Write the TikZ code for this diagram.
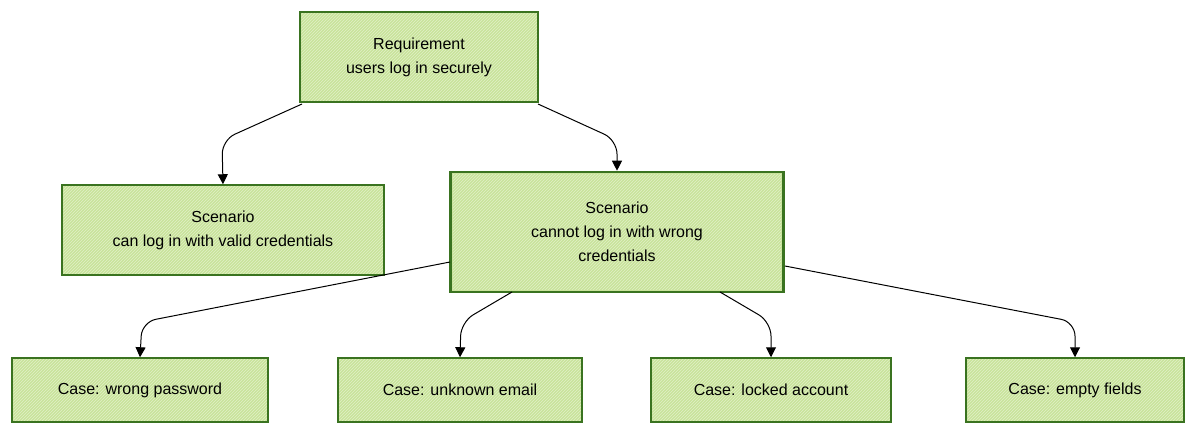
\documentclass[tikz,border=0pt]{standalone}
\usepackage{fontspec}
\setmainfont{Liberation Sans}
\usetikzlibrary{arrows.meta,patterns}
\definecolor{boxfill}{HTML}{C9E39B}
\definecolor{boxline}{HTML}{3A7320}
\begin{document}
\begin{tikzpicture}[x=1pt,y=-1pt,
  box/.style={draw=boxline,line width=1.5pt,fill=boxfill,inner sep=0pt},
  txt/.style={align=center,font=\fontsize{16}{24}\selectfont},
  hatch/.style={pattern=north east lines,pattern color=white!45!boxfill},
  arr/.style={-{Triangle[length=10pt,width=10pt]},line width=1pt,rounded corners=14pt}]
\useasboundingbox (0,0) rectangle (1200,436);
\node[box,minimum width=238,minimum height=90] (req) at (419,57) {};
\node[box,minimum width=322,minimum height=90] (s1) at (223,230) {};
\node[box,line width=2.6pt,minimum width=333,minimum height=120] (s2) at (617,232) {};
\node[box,minimum width=256,minimum height=64] (c1) at (140,390) {};
\node[box,minimum width=244,minimum height=64] (c2) at (460,390) {};
\node[box,minimum width=240,minimum height=64] (c3) at (771,390) {};
\node[box,minimum width=218,minimum height=64] (c4) at (1075,390) {};
\foreach \n/\d in {req/2,s1/2,s2/3.5,c1/2,c2/2,c3/2,c4/2}{\path[hatch] ([shift={(\d,-\d)}]\n.south west) rectangle ([shift={(-\d,\d)}]\n.north east);}
\foreach \n/\t in {req/{Requirement\\users log in securely},s1/{Scenario\\can log in with valid credentials},s2/{Scenario\\cannot log in with wrong\\credentials},c1/{Case: wrong password},c2/{Case: unknown email},c3/{Case: locked account},c4/{Case: empty fields}}{\node[txt] (t\n) at (\n) {\t};}
\coordinate (a1) at (302,104); \coordinate (a2) at (538,104);
\draw[arr] (a1) -- (222,140) -- (s1.north);
\draw[arr] (a2) -- (617,140) -- (s2.north);
\coordinate (b1) at (450,262); \coordinate (b2) at (512,292);
\coordinate (b3) at (720,292); \coordinate (b4) at (785,266);
\draw[arr] (b1) -- (142,322) -- (c1.north);
\draw[arr] (b2) -- (461,322) -- (c2.north);
\draw[arr] (b3) -- (771,322) -- (c3.north);
\draw[arr] (b4) -- (1075,322) -- (c4.north);
\end{tikzpicture}
\end{document}
